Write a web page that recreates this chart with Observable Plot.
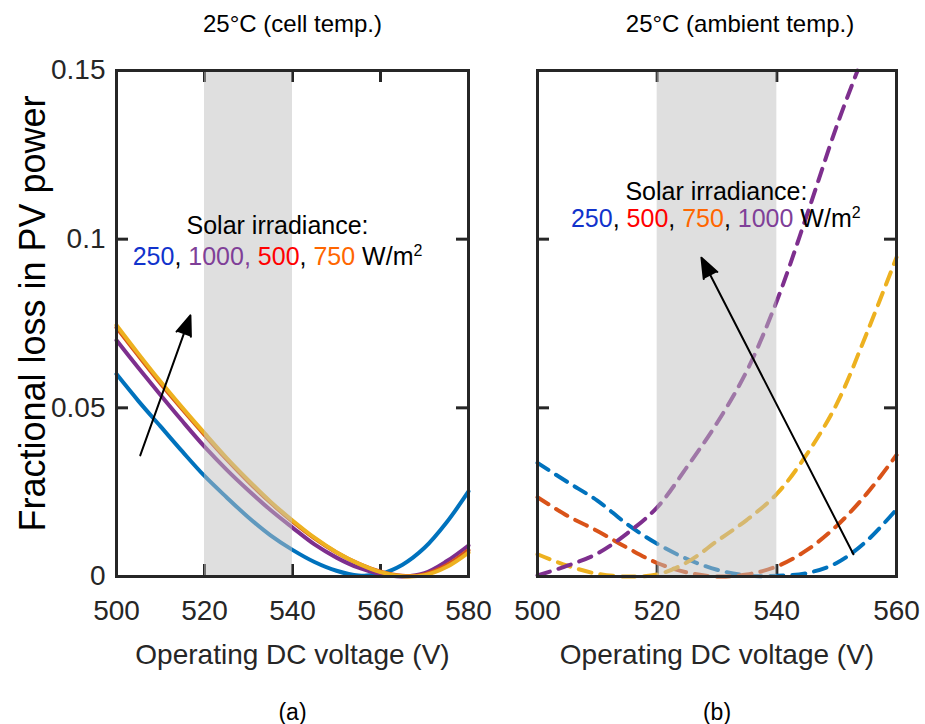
<!DOCTYPE html>
<html><head><meta charset="utf-8">
<script src="https://cdn.jsdelivr.net/npm/d3@7"></script>
<script src="https://cdn.jsdelivr.net/npm/@observablehq/plot@0.6"></script>
<style>
body{margin:0;background:#fff;}
#wrap{position:relative;width:925px;height:724px;overflow:hidden;}
#wrap svg{position:absolute;top:0;}
</style></head><body><div id="wrap"></div>
<script>
// ---------- data ----------
const irradiance = [250, 500, 750, 1000];
const voltageA = [500,505,510,515,520,525,530,535,540,545,550,555,560,565,570,575,580];
const lossA250  = [0.0600,0.0520,0.0445,0.0370,0.0298,0.0235,0.0175,0.0122,0.0079,0.0043,0.0017,0.0003,0.0008,0.0035,0.0085,0.0160,0.0252];
const lossA500  = [0.0738,0.0654,0.0572,0.0495,0.0420,0.0348,0.0281,0.0219,0.0163,0.0113,0.0071,0.0038,0.0014,0.0002,0.0006,0.0033,0.0078];
const lossA750  = [0.0745,0.0660,0.0578,0.0500,0.0425,0.0352,0.0285,0.0222,0.0166,0.0115,0.0072,0.0038,0.0013,0.0001,0.0004,0.0028,0.0071];
const lossA1000 = [0.0700,0.0618,0.0538,0.0460,0.0385,0.0317,0.0255,0.0197,0.0145,0.0095,0.0056,0.0026,0.0007,0.0000,0.0010,0.0045,0.0092];

const voltageB = [500,505,510,515,520,525,530,535,540,545,550,555,560];
const lossB250  = [0.0337,0.0280,0.0225,0.0155,0.0097,0.0052,0.0020,0.0003,0.0002,0.0010,0.0040,0.0105,0.0199];
const lossB500  = [0.0235,0.0180,0.0135,0.0085,0.0040,0.0012,0.0000,0.0006,0.0030,0.0078,0.0150,0.0245,0.0360];
const lossB750  = [0.0066,0.0032,0.0008,0.0000,0.0006,0.0042,0.0105,0.0168,0.0245,0.0362,0.0511,0.0720,0.0946];
const voltageB1000 = [500,505,510,515,520,525,530,535,540,545,550,553.5];
const lossB1000 = [0.0003,0.0032,0.0068,0.0128,0.0205,0.0325,0.0455,0.0610,0.0817,0.1070,0.1335,0.1500];

const xTicksA = [500, 520, 540, 560, 580];
const xTicksB = [500, 520, 540, 560];
const yTicks = [0, 0.05, 0.1, 0.15];
const yTickLabels = ["0", "0.05", "0.1", "0.15"];
const shadedRange = [520, 540];

const titleA = "25°C (cell temp.)";
const titleB = "25°C (ambient temp.)";
const xTitle = "Operating DC voltage (V)";
const yTitle = "Fractional loss in PV power";
const legendHead = "Solar irradiance:";
const legendA = [["250","#1133cc"],[", ","#000"],["1000, ","#7f3f98"],["500","#ff0000"],[", ","#000"],["750 ","#ff6600"],["W/m","#000"],["2","#000",true]];
const legendB = [["250","#1133cc"],[", ","#000"],["500","#ff0000"],[", ","#000"],["750","#ff6600"],[", ","#000"],["1000","#7f3f98"],[" W/m","#000"],["2","#000",true]];
// annotation anchors (data units: V, loss)
const legendPosA = [[536.6, 0.1040], [536.6, 0.0946]];
const legendPosB = [[529.9, 0.1141], [529.8, 0.1061]];
const arrowA = [[505.4, 0.0359], [516.8, 0.0774]];
const arrowB = [[552.8, 0.0066], [527.4, 0.0945]];

// ---------- styles ----------
const FONT = "Liberation Sans, Arial, Helvetica, sans-serif";
const INK = "#262626";
const seriesColor = {250: "#0072BD", 500: "#D95319", 750: "#EDB120", 1000: "#7E2F8E"};

const toRows = (xs, ys, g) => xs.map((v, i) => ({v, loss: ys[i], g}));
const rowsA = {250: toRows(voltageA, lossA250, 250), 500: toRows(voltageA, lossA500, 500),
               750: toRows(voltageA, lossA750, 750), 1000: toRows(voltageA, lossA1000, 1000)};
const rowsB = {250: toRows(voltageB, lossB250, 250), 500: toRows(voltageB, lossB500, 500),
               750: toRows(voltageB, lossB750, 750), 1000: toRows(voltageB1000, lossB1000, 1000)};

function panel({width, left, marginLeft, marginRight, xDomain, xTicks, rows, order, dashed, yAxis,
                legend, legendPos, arrow, title, titleDx, tag}) {
  const frameW = width - marginLeft - marginRight;
  const frameH = 724 - 70 - 148;
  const lineMarks = order.map(g => Plot.line(rows[g], {x: "v", y: "loss", stroke: seriesColor[g],
    strokeWidth: 4, curve: "catmull-rom", strokeDasharray: dashed ? "13,9" : null}));
  const inner = xTicks.filter(t => t !== xDomain[0] && t !== xDomain[1]);
  const innerY = yTicks.filter(t => t !== 0 && t !== 0.15);
  const marks = [
    Plot.tickX(inner, {x: d => d, stroke: INK, strokeWidth: 3, insetTop: frameH - 12}),
    Plot.tickX(inner, {x: d => d, stroke: INK, strokeWidth: 3, insetBottom: frameH - 12}),
    Plot.tickY(innerY, {y: d => d, stroke: INK, strokeWidth: 3, insetRight: frameW - 12}),
    Plot.tickY(innerY, {y: d => d, stroke: INK, strokeWidth: 3, insetLeft: frameW - 12}),
    ...lineMarks,
    Plot.rect([shadedRange], {x1: d => d[0], x2: d => d[1], fill: "#c0c0c0", fillOpacity: 0.5}),
    Plot.arrow([arrow], {x1: d => d[0][0], y1: d => d[0][1], x2: d => d[1][0], y2: d => d[1][1],
      stroke: "black", fill: "black", strokeWidth: 2, headLength: 16, headAngle: 42}),
    Plot.text([legendHead], {text: d => d, x: () => legendPos[0][0], y: () => legendPos[0][1],
      fontSize: 25, fill: "black", textAnchor: "middle"}),
    Plot.text(["legend"], {text: d => d, x: () => legendPos[1][0], y: () => legendPos[1][1],
      fontSize: 25, fill: "black", textAnchor: "middle", className: "legend-line"}),
    Plot.axisX({ticks: xTicks, tickSize: 0, tickPadding: 24, fontSize: 28, fill: INK, label: null,
      tickFormat: d => String(d)}),
    Plot.text([xTitle], {text: d => d, frameAnchor: "bottom", dy: 87, fontSize: 28, fill: INK}),
    Plot.text([tag], {text: d => d, frameAnchor: "bottom", dy: 143, fontSize: 23, fill: "black"}),
    Plot.text([title], {text: d => d, frameAnchor: "top", dy: -56, dx: titleDx, fontSize: 24, fill: "black"}),
  ];
  if (yAxis) {
    marks.push(Plot.axisY({ticks: yTicks, tickSize: 0, tickPadding: 11, fontSize: 28, fill: INK, label: null,
      tickFormat: d => yTickLabels[yTicks.indexOf(d)]}));
    marks.push(Plot.text([yTitle], {text: d => d, frameAnchor: "left", textAnchor: "middle", dx: -83, dy: -10,
      rotate: -90, fontSize: 36, fill: "black"}));
  }
  marks.push(Plot.frame({stroke: INK, strokeWidth: 3}));
  const svg = Plot.plot({
    width, height: 724, marginLeft, marginRight, marginTop: 70, marginBottom: 148,
    style: {fontFamily: FONT, background: "transparent", overflow: "visible"},
    x: {domain: xDomain},
    y: {domain: [0, 0.15], axis: yAxis ? undefined : null},
    marks
  });
  svg.style.left = left + "px";
  // colour the legend line
  const t = svg.querySelector(".legend-line text");
  if (t) {
    t.textContent = "";
    for (const [s, c, sup] of legend) {
      const ts = document.createElementNS("http://www.w3.org/2000/svg", "tspan");
      ts.textContent = s;
      ts.setAttribute("fill", c);
      if (sup) { ts.setAttribute("font-size", "16"); ts.setAttribute("dy", "-9"); }
      t.appendChild(ts);
    }
    t.setAttribute("xml:space", "preserve");
    t.style.whiteSpace = "pre";
  }
  document.getElementById("wrap").appendChild(svg);
}

panel({width: 490, left: 0, marginLeft: 116, marginRight: 22, xDomain: [500, 580], xTicks: xTicksA,
  rows: rowsA, order: [250, 1000, 500, 750], dashed: false, yAxis: true, legend: legendA,
  legendPos: legendPosA, arrow: arrowA, title: titleA, titleDx: 0, tag: "(a)"});
panel({width: 435, left: 490, marginLeft: 47, marginRight: 29, xDomain: [500, 560], xTicks: xTicksB,
  rows: rowsB, order: [250, 500, 750, 1000], dashed: true, yAxis: false, legend: legendB,
  legendPos: legendPosB, arrow: arrowB, title: titleB, titleDx: 23, tag: "(b)"});
</script></body></html>
